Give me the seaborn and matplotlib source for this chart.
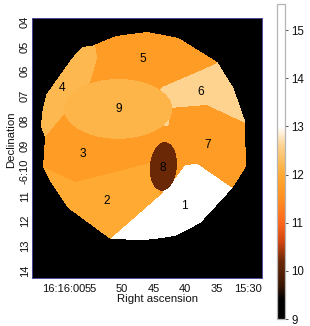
import numpy as np
import pandas as pd
import seaborn as sns
import matplotlib.pyplot as plt
from matplotlib.colors import LinearSegmentedColormap
from matplotlib.path import Path
from matplotlib.ticker import FixedLocator
from matplotlib.transforms import ScaledTranslation

# all outlines are (right ascension seconds after 16:15, declination minutes after -6)
footprint = [(56.35, 5.02), (54.76, 4.98), (51.43, 4.62), (49.84, 4.54), (46.03, 4.42), (41.11, 4.66),
             (34.92, 5.63), (32.38, 6.67), (30.48, 8.04), (30.48, 9.00), (30.32, 9.80), (32.54, 10.69),
             (37.62, 12.09), (41.59, 12.61), (44.76, 12.73), (46.67, 12.78), (51.90, 12.73), (58.57, 11.49),
             (61.43, 10.41), (62.54, 9.84), (62.22, 8.64), (62.86, 8.24), (62.70, 7.67), (62.06, 6.95),
             (59.52, 6.03), (57.94, 5.47)]
region_1 = [(32.54, 10.69), (38.10, 9.72), (40.00, 9.76), (41.59, 10.29), (43.97, 10.97), (51.90, 12.73),
            (52, 14), (28, 14), (28, 11.48)]
region_2 = [(62.54, 9.84), (57.46, 10.45), (45.56, 9.68), (43.97, 10.97), (51.90, 12.73), (52, 14), (66, 14),
            (66, 9.84)]
region_3 = [(62.22, 8.64), (59.05, 7.67), (50.63, 7.51), (42.38, 7.96), (43.17, 8.84), (45.56, 9.68),
            (57.46, 10.45), (62.54, 9.84), (66, 9.84), (66, 8.9)]
region_4 = [(54.9, 4.0), (53.97, 5.47), (55.08, 6.43), (59.05, 7.67), (62.22, 8.64), (66, 8.9), (66, 4)]
region_5 = [(54.9, 4.0), (53.97, 5.47), (55.08, 6.43), (49, 7.2), (43.65, 6.63), (35.24, 5.71), (33, 5.0), (33, 4)]
region_6 = [(43.65, 6.63), (35.24, 5.71), (33, 5.0), (28, 5), (28, 8.37), (30.48, 8.08), (36.67, 7.35),
            (42.22, 7.47), (42.70, 8.20), (43.97, 8.16), (46, 7.2)]

ellipse_9 = (50.63, 7.51, 8.57, 1.20)
ellipse_8 = (43.49, 9.82, 2.14, 0.98)

flux_background = 9.0
flux_1 = 14.0
flux_2 = 12.0
flux_3 = 11.75
flux_4 = 12.2
flux_5 = 11.75
flux_6 = 12.6
flux_7 = 11.75
flux_8 = 10.2
flux_9 = 12.15

labels = ["1", "2", "3", "4", "5", "6", "7", "8", "9"]
label_ra = [40.16, 52.38, 56.19, 59.52, 46.67, 37.46, 36.35, 43.49, 50.48]
label_dec = [11.41, 11.21, 9.32, 6.67, 5.51, 6.83, 8.96, 9.88, 7.51]

ra_ticks = [60, 55, 50, 45, 40, 35, 30]
ra_labels = ["16:16:00", "55", "50", "45", "40", "35", "15:30"]
dec_ticks = [4, 5, 6, 7, 8, 9, 10, 11, 12, 13, 14]
dec_labels = ["04", "05", "06", "07", "08", "09", "-6:10", "11", "12", "13", "14"]
cbar_ticks = [9, 10, 11, 12, 13, 14, 15]

ra_left, ra_right = 64.29, 27.86
dec_top, dec_bottom = 3.86, 14.30
ncols, nrows = 230, 260
vmin, vmax = 9, 15.54

ra = ra_left + (np.arange(ncols) + 0.5) / ncols * (ra_right - ra_left)
dec = dec_top + (np.arange(nrows) + 0.5) / nrows * (dec_bottom - dec_top)
ra_grid, dec_grid = np.meshgrid(ra, dec)
points = np.column_stack([ra_grid.ravel(), dec_grid.ravel()])


def inside(outline):
    return Path(outline).contains_points(points).reshape(ra_grid.shape)


grid = np.full(ra_grid.shape, flux_7)
for outline, flux in [(region_5, flux_5), (region_4, flux_4), (region_3, flux_3), (region_6, flux_6),
                      (region_2, flux_2), (region_1, flux_1)]:
    grid[inside(outline)] = flux

u = (ra_grid - ellipse_9[0]) / ellipse_9[2]
v = (dec_grid - ellipse_9[1]) / ellipse_9[3]
grid[u ** 2 + v ** 2 <= 1] = flux_9

# the source 8 ellipse leans a little to the right at the top
u = (ra_grid - ellipse_8[0] - 0.24 * (dec_grid - ellipse_8[1])) / ellipse_8[2]
v = (dec_grid - ellipse_8[1]) / ellipse_8[3]
grid[u ** 2 + v ** 2 <= 1] = flux_8

grid[~inside(footprint)] = flux_background


def col(value):
    return (np.asarray(value) - ra_left) / (ra_right - ra_left) * ncols


def row(value):
    return (np.asarray(value) - dec_top) / (dec_bottom - dec_top) * nrows


def frac(value):
    return (value - vmin) / (vmax - vmin)


cmap = LinearSegmentedColormap.from_list("flux", [
    (0.0, "#000000"), (frac(9.4), "#000000"), (frac(9.7), "#3a1604"), (frac(10.2), "#6b2807"),
    (frac(10.6), "#d0440f"), (frac(11.0), "#ff661c"), (frac(11.5), "#ff8f20"), (frac(11.75), "#ff9c26"),
    (frac(12.0), "#ffaa33"), (frac(12.2), "#fdb850"), (frac(12.6), "#fed28f"), (frac(13.0), "#ffffff"),
    (1.0, "#ffffff")], N=1024)

sns.set_theme(style="white")
plt.rcParams['font.family'] = ['Liberation Sans', 'DejaVu Sans']

W, H = 310, 326
fig = plt.figure(figsize=(W / 100, H / 100), dpi=100)
ax = fig.add_axes([32 / W, 1 - 278 / H, 229.5 / W, 260 / H])
cax = fig.add_axes([277 / W, 1 - 319 / H, 7.5 / W, 315 / H])

df = pd.DataFrame(grid, index=dec, columns=ra)
sns.heatmap(df, ax=ax, cbar_ax=cax, cmap=cmap, vmin=vmin, vmax=vmax, xticklabels=False, yticklabels=False)

for text, r, d in zip(labels, label_ra, label_dec):
    ax.text(col(r), row(d), text, color="black", fontsize=8.6, ha="center", va="center")

spine = "#4a4a9a"
for s in ax.spines.values():
    s.set_visible(True)
    s.set_color(spine)
    s.set_linewidth(0.7)

ax.set_xticks(col(ra_ticks))
ax.set_xticklabels(ra_labels)
ax.set_yticks(row(dec_ticks))
ax.set_yticklabels(dec_labels, rotation=90, va="center")
ax.xaxis.set_minor_locator(FixedLocator(col(np.arange(28, 65))))
ax.yaxis.set_minor_locator(FixedLocator(row(np.arange(4, 14.3, 0.2))))
ax.tick_params(axis="both", which="major", direction="in", length=3, width=0.6, color="#55559a", top=True,
               right=True, bottom=True, left=True, labelsize=8, labelcolor="#111111")
ax.tick_params(axis="x", which="major", pad=4)
ax.tick_params(axis="y", which="major", pad=1.5)
ax.tick_params(axis="both", which="minor", direction="in", length=1.5, width=0.5, color="#55559a", top=True,
               right=True, bottom=True, left=True)

# the first label sits off its tick so it runs up to the next one, as in the original
first = ax.get_xticklabels()[0]
first.set_transform(first.get_transform() + ScaledTranslation(4.5 / 100, 0, fig.dpi_scale_trans))

ax.set_xlabel("Right ascension", fontsize=8.2, color="#111111")
ax.xaxis.set_label_coords(0.549, -0.06)
ax.set_ylabel("Declination", fontsize=8.2, color="#111111")
ax.yaxis.set_label_coords(-0.07, 0.53)

cbar = ax.collections[0].colorbar
cbar.set_ticks(cbar_ticks)
cbar.set_ticklabels([str(t) for t in cbar_ticks])
cbar.ax.tick_params(length=2, width=0.6, color="#333333", labelsize=8.3, labelcolor="#111111", pad=3, right=True)
cbar.outline.set_visible(True)
cbar.outline.set_edgecolor("#b5b5b5")
cbar.outline.set_linewidth(0.9)

fig.savefig("out.png", dpi=100)
